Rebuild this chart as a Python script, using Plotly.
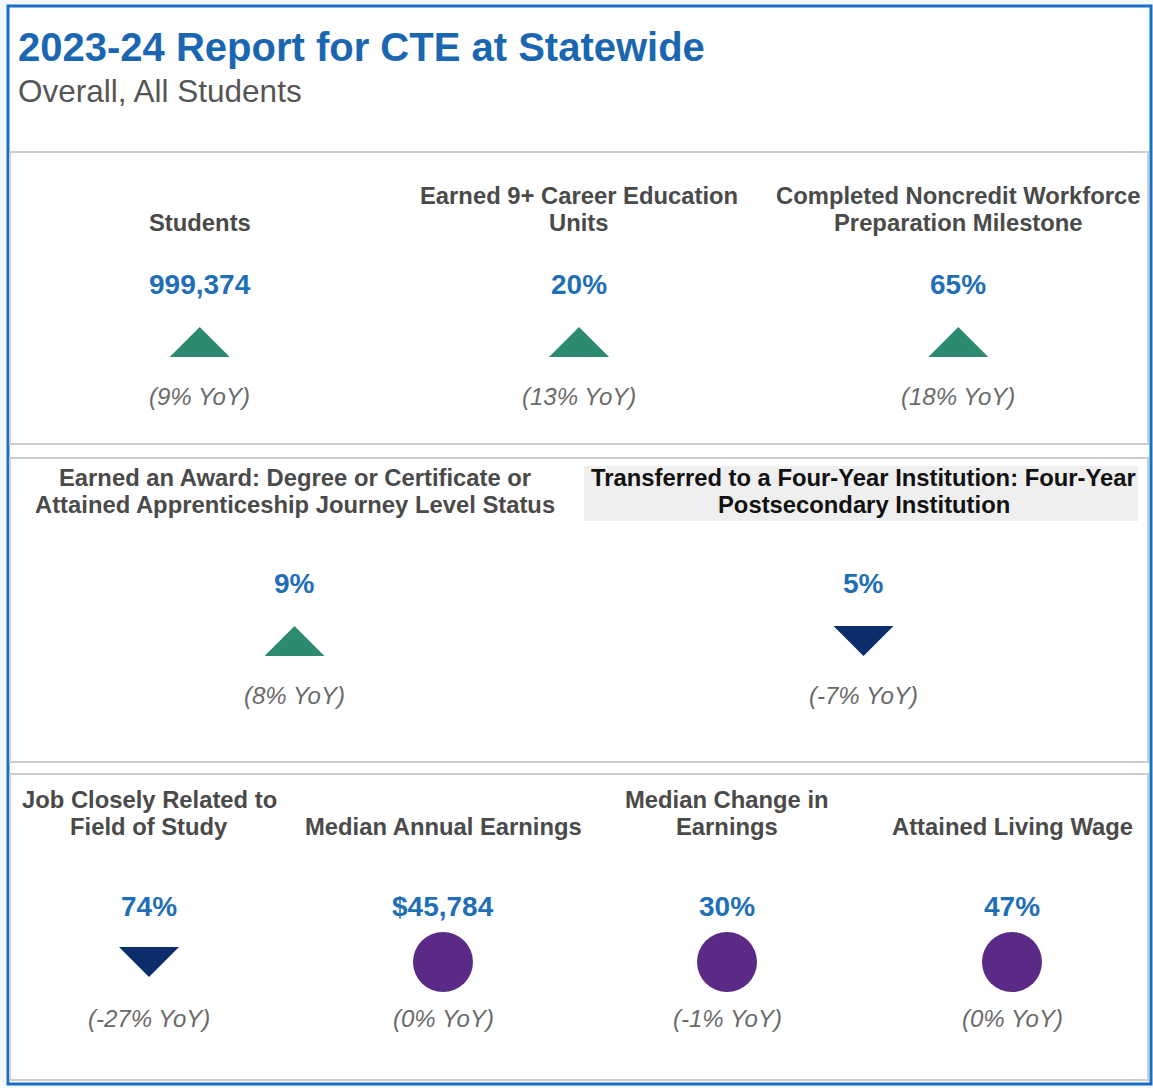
import plotly.graph_objects as go

# ---------------- data ----------------
title = "2023-24 Report for CTE at Statewide"
subtitle = "Overall, All Students"

metric_labels = [
    "Students",
    "Earned 9+ Career Education<br>Units",
    "Completed Noncredit Workforce<br>Preparation Milestone",
    "Earned an Award: Degree or Certificate or<br>Attained Apprenticeship Journey Level Status",
    "Transferred to a Four-Year Institution: Four-Year<br>Postsecondary Institution",
    "Job Closely Related to<br>Field of Study",
    "Median Annual Earnings",
    "Median Change in<br>Earnings",
    "Attained Living Wage",
]
metric_values = [999374, 20, 65, 9, 5, 74, 45784, 30, 47]
metric_units = ["count", "pct", "pct", "pct", "pct", "pct", "usd", "pct", "pct"]
yoy_change = [9, 13, 18, 8, -7, -27, 0, -1, 0]
trend = ["up", "up", "up", "up", "down", "down", "flat", "flat", "flat"]
panel_of_metric = [0, 0, 0, 1, 1, 2, 2, 2, 2]
highlighted = [False, False, False, False, True, False, False, False, False]

# ---------------- layout constants ----------------
W, H = 1153, 1088
FONT = "Arial, 'Liberation Sans', sans-serif"
TITLE_BLUE = "#1b66b1"
VALUE_BLUE = "#1f6fb7"
LABEL_GRAY = "#4a4a4a"
YOY_GRAY = "#6a6a6a"
GREEN = "#2b8a6f"
NAVY = "#0c2d6b"
PURPLE = "#5b2a86"
PANEL_LINE = "#cdcdcd"
PAGE_BG = "#f3f8fd"

panels = [
    dict(x0=10, y0=152, x1=1148, y1=444, lab=222, val=284, ico=342, yoy=396),
    dict(x0=10, y0=458, x1=1148, y1=762, lab=504, val=583, ico=641, yoy=695),
    dict(x0=10, y0=774, x1=1148, y1=1080, lab=826, val=906, ico=962, yoy=1018),
]
panel3_centers = [149, 443, 727, 1012]
LINE_H = 27

def fmt_value(v, unit):
    if unit == "count":
        return f"{v:,}"
    if unit == "usd":
        return f"${v:,}"
    return f"{v}%"

# column centers
centers = {}
for p_idx, p in enumerate(panels):
    idxs = [i for i, pp in enumerate(panel_of_metric) if pp == p_idx]
    n = len(idxs)
    if p_idx == 2:
        cs = panel3_centers
    else:
        w = (p["x1"] - p["x0"]) / n
        cs = [p["x0"] + (k + 0.5) * w for k in range(n)]
    for k, i in enumerate(idxs):
        centers[i] = cs[k]

fig = go.Figure()
shapes = []
annotations = []

# outer card
shapes.append(dict(type="rect", xref="x", yref="y", x0=8, y0=6, x1=1151, y1=1084,
                   line=dict(color="#1a6fc4", width=3), fillcolor="white", layer="below"))
for p in panels:
    shapes.append(dict(type="rect", xref="x", yref="y", x0=p["x0"], y0=p["y0"], x1=p["x1"], y1=p["y1"],
                       line=dict(color=PANEL_LINE, width=2), fillcolor="rgba(0,0,0,0)", layer="below"))

annotations.append(dict(x=16, y=47, xref="x", yref="y", text=f"<b>{title}</b>", showarrow=False,
                        xanchor="left", yanchor="middle", font=dict(family=FONT, size=40, color=TITLE_BLUE)))
annotations.append(dict(x=16, y=91, xref="x", yref="y", text=subtitle, showarrow=False,
                        xanchor="left", yanchor="middle", font=dict(family=FONT, size=31.5, color="#555555")))

half_w, half_h = 30, 15
for i, label in enumerate(metric_labels):
    p = panels[panel_of_metric[i]]
    cx = centers[i]
    lines = label.split("<br>")
    n = len(lines)
    if highlighted[i]:
        shapes.append(dict(type="rect", xref="x", yref="y", x0=584, y0=466, x1=1138, y1=521,
                           line=dict(width=0), fillcolor="#efefef", layer="below"))
    for k, ln in enumerate(lines):
        y = p["lab"] - (n - 1 - k) * LINE_H
        annotations.append(dict(x=cx, y=y, xref="x", yref="y", text=f"<b>{ln}</b>", showarrow=False,
                                xanchor="center", yanchor="middle",
                                font=dict(family=FONT, size=23.8,
                                          color="#111111" if highlighted[i] else LABEL_GRAY)))
    annotations.append(dict(x=cx, y=p["val"], xref="x", yref="y",
                            text=f"<b>{fmt_value(metric_values[i], metric_units[i])}</b>", showarrow=False,
                            xanchor="center", yanchor="middle", font=dict(family=FONT, size=28, color=VALUE_BLUE)))
    annotations.append(dict(x=cx, y=p["yoy"], xref="x", yref="y",
                            text=f"<i>({yoy_change[i]}% YoY)</i>", showarrow=False,
                            xanchor="center", yanchor="middle", font=dict(family=FONT, size=24, color=YOY_GRAY)))
    cy = p["ico"]
    if trend[i] == "up":
        xs = [cx - half_w, cx + half_w, cx, cx - half_w]
        ys = [cy + half_h, cy + half_h, cy - half_h, cy + half_h]
        fig.add_trace(go.Scatter(x=xs, y=ys, mode="lines", fill="toself", fillcolor=GREEN,
                                 line=dict(color=GREEN, width=0), hoverinfo="skip", showlegend=False))
    elif trend[i] == "down":
        xs = [cx - half_w, cx + half_w, cx, cx - half_w]
        ys = [cy - half_h, cy - half_h, cy + half_h, cy - half_h]
        fig.add_trace(go.Scatter(x=xs, y=ys, mode="lines", fill="toself", fillcolor=NAVY,
                                 line=dict(color=NAVY, width=0), hoverinfo="skip", showlegend=False))
    else:
        fig.add_trace(go.Scatter(x=[cx], y=[cy], mode="markers",
                                 marker=dict(symbol="circle", size=60, color=PURPLE, line=dict(width=0)),
                                 hoverinfo="skip", showlegend=False))

fig.update_layout(
    width=W, height=H,
    margin=dict(l=0, r=0, t=0, b=0),
    paper_bgcolor=PAGE_BG,
    plot_bgcolor="rgba(0,0,0,0)",
    xaxis=dict(range=[0, W], visible=False, fixedrange=True),
    yaxis=dict(range=[H, 0], visible=False, fixedrange=True),
    shapes=shapes,
    annotations=annotations,
    showlegend=False,
)

fig.write_html(
    "out.html",
    config={"displayModeBar": False},
    post_script="document.body.style.margin='0';document.body.style.overflow='hidden';"
                "document.body.style.background='" + PAGE_BG + "';",
)
